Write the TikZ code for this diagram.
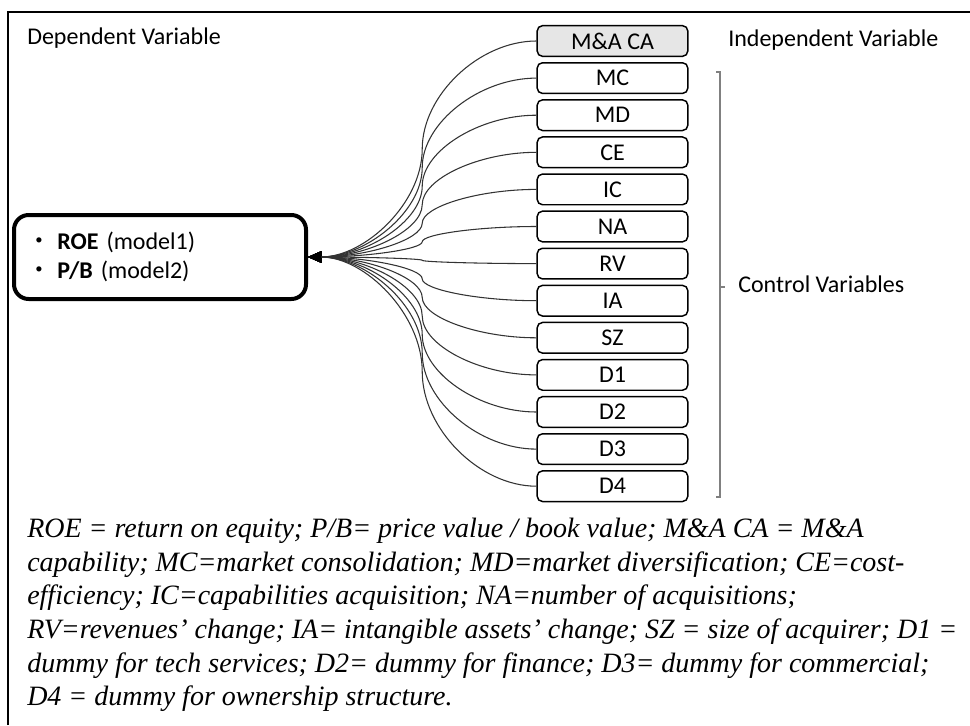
\documentclass[tikz,border=0pt]{standalone}
\usepackage{fontspec}
\setmainfont{Carlito}
\newfontfamily\notefont{Liberation Serif}
\usetikzlibrary{arrows.meta,calc}
\definecolor{linkgray}{HTML}{333333}
\definecolor{bracegray}{HTML}{808080}
\definecolor{idfill}{HTML}{E6E6E6}
\newcommand{\smallbul}{\makebox[18pt][l]{\hspace{1.5pt}\raisebox{0.22em}{\fontsize{11}{11}\selectfont\textbullet}}}
\begin{document}
\begin{tikzpicture}[x=0.75pt,y=-0.75pt,
  lbl/.style={font=\fontsize{18}{21.6}\selectfont, inner sep=0pt, anchor=base west},
  varbox/.style={draw=black, line width=1.1pt, rounded corners=4pt,
    minimum width=113pt, minimum height=23pt, inner sep=0pt,
    font=\fontsize{18}{21.6}\selectfont},
  depbox/.style={draw=black, line width=3pt, rounded corners=11pt,
    minimum width=219pt, minimum height=63pt, text width=190pt,
    inner xsep=14.5pt, align=left, font=\fontsize{18}{21.75}\selectfont},
  conn/.style={draw=linkgray, line width=0.8pt,
    -{Triangle[length=10pt,width=8.5pt,color=black]}},
  brk/.style={draw=bracegray, line width=1.1pt},
  note/.style={font=\notefont\itshape\fontsize{21}{25}\selectfont, inner sep=0pt, anchor=base west}]
\useasboundingbox (0,0) rectangle (970,725);

% outer frame (top and left edges)
\draw[line width=1.1pt] (8,725) -- (8,12) -- (970,12);

% headings
\node[lbl] (deplabel) at (27,44) {Dependent Variable};
\node[lbl] (indeplabel) at (728,46) {Independent Variable};
\node[lbl] (ctrllabel) at (738,292) {Control Variables};

% dependent variable box
\node[depbox] (dep) at (160,257)
  {\smallbul\textbf{ROE} (model1)\\
   \smallbul\textbf{P/B} (model2)};

% independent and control variable boxes
\node[varbox, fill=idfill] (b0) at (612.5,41) {M\&A CA};
\foreach \t [count=\i] in {MC,MD,CE,IC,NA,RV,IA,SZ,D1,D2,D3,D4}
  \node[varbox] (b\i) at (612.5,{41+37.1*\i}) {\t};

% curved connectors into the dependent variable box
\foreach \i in {0,...,12}
  \draw[conn] let \p1=(b\i.west), \p2=(dep.east) in
    (\p1) .. controls ({(3*\x1+\x2)/4},\y1) and ({(\x1+\x2)/2},{(3*\y1+\y2)/4})
    .. ({(\x1+\x2)/2},{(\y1+\y2)/2})
    .. controls ({(\x1+\x2)/2},{(\y1+3*\y2)/4}) and ({(\x1+3*\x2)/4},\y2) .. (\p2);

% bracket grouping the control variables
\draw[brk] (716,72) -- (720,72) -- (720,497) -- (716,497);
\draw[brk] (720,287) -- (725,287);

% abbreviations
\node[note] (n1) at (27,537) {ROE = return on equity; P/B= price value / book value; M\&A CA = M\&A};
\node[note] (n2) at (27,571) {capability; MC=market consolidation; MD=market diversification; CE=cost-};
\node[note] (n3) at (27,604) {efficiency; IC=capabilities acquisition; NA=number of acquisitions;};
\node[note] (n4) at (27,638) {RV=revenues’ change; IA= intangible assets’ change; SZ = size of acquirer; D1 =};
\node[note] (n5) at (27,672) {dummy for tech services; D2= dummy for finance; D3= dummy for commercial;};
\node[note] (n6) at (27,705) {D4 = dummy for ownership structure.};
\end{tikzpicture}
\end{document}
